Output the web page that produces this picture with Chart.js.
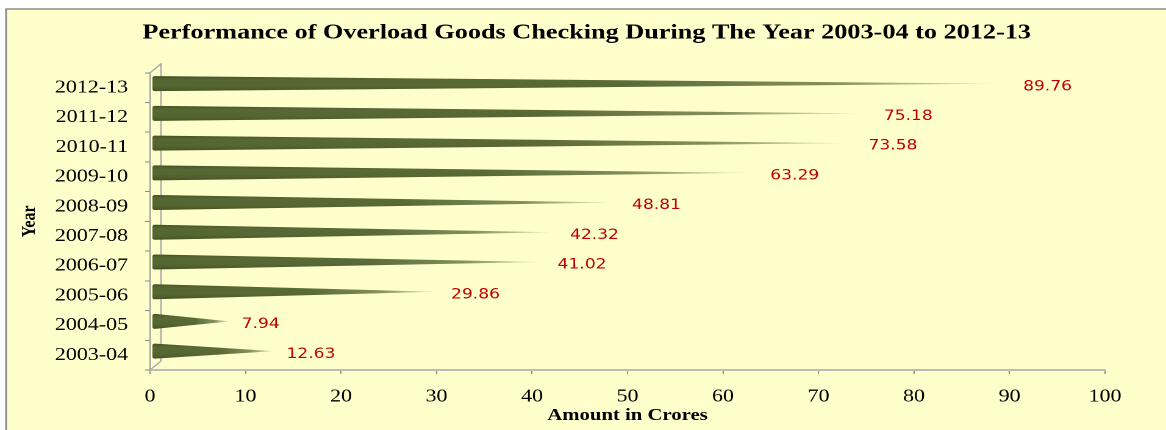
<!DOCTYPE html>
<html><head><meta charset="utf-8">
<script src="https://cdn.jsdelivr.net/npm/chart.js@4.4.1/dist/chart.umd.min.js"></script>
<style>
html,body{margin:0;padding:0;background:#fff;overflow:hidden;width:1166px;height:430px}
#wrap{width:956px;height:430px;transform:scaleX(1.219665);transform-origin:0 0}
canvas{display:block}
</style></head><body>
<div id="wrap"><canvas id="c" width="956" height="430" style="width:956px;height:430px"></canvas></div>
<script>
// ---- data ----
const years = ['2003-04','2004-05','2005-06','2006-07','2007-08','2008-09','2009-10','2010-11','2011-12','2012-13'];
const amounts = [12.63, 7.94, 29.86, 41.02, 42.32, 48.81, 63.29, 73.58, 75.18, 89.76];
const xTicks = [0, 10, 20, 30, 40, 50, 60, 70, 80, 90, 100];
const chartTitle = 'Performance of Overload Goods Checking During The Year 2003-04 to 2012-13';
const xTitle = 'Amount in Crores';
const yTitle = 'Year';

const SERIF = '"Liberation Serif", "Times New Roman", serif';

const bgPlugin = {
  id: 'bg',
  afterLayout(chart) {
    // centre the title over the framed area rather than the padded layout box
    if (chart.titleBlock) { chart.titleBlock.left = 0; chart.titleBlock.right = chart.width + 6; }
  },
  beforeDraw(chart) {
    const {ctx, width, height} = chart;
    ctx.save();
    ctx.fillStyle = '#ffffff';
    ctx.fillRect(0, 0, width, height);
    const bx = 5, by = 9;
    ctx.fillStyle = '#FFFFCC';
    ctx.fillRect(bx, by, width - bx, height - by);
    ctx.strokeStyle = '#8c8c8c';
    ctx.lineWidth = 1.5;
    ctx.beginPath();
    ctx.moveTo(bx, height);
    ctx.lineTo(bx, by);
    ctx.lineTo(width, by);
    ctx.stroke();
    ctx.restore();
  }
};

const wallPlugin = {
  id: 'wall',
  beforeDatasetsDraw(chart) {
    const {ctx, chartArea} = chart;
    const ax = chart.scales.y.right;
    const d = 9;
    ctx.save();
    ctx.strokeStyle = '#a8a8a8';
    ctx.lineWidth = 1.2;
    ctx.beginPath();
    ctx.moveTo(ax, chartArea.top);
    ctx.lineTo(ax + d, chartArea.top - d);
    ctx.lineTo(ax + d, chartArea.bottom - d);
    ctx.lineTo(ax, chartArea.bottom);
    ctx.stroke();
    ctx.restore();
  }
};

const conePlugin = {
  id: 'cones',
  afterDatasetsDraw(chart) {
    const {ctx} = chart;
    const meta = chart.getDatasetMeta(0);
    ctx.save();
    meta.data.forEach((el, i) => {
      const p = el.getProps(['x', 'y', 'base', 'height'], true);
      const h = p.height;
      const cy = p.y - 4;
      const x0 = p.base + 1.5;
      const tip = p.base + 4 + (p.x - p.base) * 0.985;
      const gh = ctx.createLinearGradient(x0, 0, tip, 0);
      gh.addColorStop(0, '#4a5c24');
      gh.addColorStop(0.55, '#4d6027');
      gh.addColorStop(0.8, 'rgba(79,98,40,0.75)');
      gh.addColorStop(1, 'rgba(79,98,40,0.15)');
      ctx.fillStyle = gh;
      ctx.beginPath();
      ctx.moveTo(x0 + 2, cy - h / 2);
      ctx.lineTo(tip, cy);
      ctx.lineTo(x0 + 2, cy + h / 2);
      ctx.quadraticCurveTo(x0, cy + h / 2, x0, cy + h / 2 - 2);
      ctx.lineTo(x0, cy - h / 2 + 2);
      ctx.quadraticCurveTo(x0, cy - h / 2, x0 + 2, cy - h / 2);
      ctx.closePath();
      ctx.fill();
      const gv = ctx.createLinearGradient(0, cy - h / 2, 0, cy + h / 2);
      gv.addColorStop(0, 'rgba(30,40,10,0.25)');
      gv.addColorStop(0.45, 'rgba(255,255,255,0.06)');
      gv.addColorStop(1, 'rgba(30,40,10,0.2)');
      ctx.fillStyle = gv;
      ctx.fill();
    });
    // value labels
    ctx.fillStyle = '#C00000';
    ctx.font = '14px "DejaVu Sans", Verdana, sans-serif';
    ctx.textAlign = 'left';
    ctx.textBaseline = 'middle';
    meta.data.forEach((el, i) => {
      const p = el.getProps(['x', 'y'], true);
      ctx.fillText(amounts[i].toFixed(2), p.x + 13, p.y - 1);
    });
    ctx.restore();
  }
};

new Chart(document.getElementById('c'), {
  type: 'bar',
  data: {
    labels: years,
    datasets: [{
      data: amounts,
      backgroundColor: 'rgba(0,0,0,0)',
      borderWidth: 0,
      barThickness: 15
    }]
  },
  options: {
    indexAxis: 'y',
    responsive: false,
    devicePixelRatio: 2,
    animation: false,
    layout: {padding: {left: 0, right: 50, top: 0, bottom: 0}},
    plugins: {
      legend: {display: false},
      tooltip: {enabled: false},
      title: {
        display: true,
        text: chartTitle,
        color: '#000',
        font: {family: SERIF, size: 21.5, weight: 'bold'},
        padding: {top: 20, bottom: 27}
      }
    },
    scales: {
      x: {
        min: 0, max: 100,
        afterBuildTicks: s => { s.ticks = xTicks.map(v => ({value: v})); },
        grid: {drawOnChartArea: false, drawTicks: true, tickLength: 4, color: '#8a8a8a'},
        border: {display: true, color: '#bcbcb4', width: 2},
        ticks: {color: '#000', font: {family: SERIF, size: 18}, padding: 12, maxRotation: 0, autoSkip: false},
        title: {display: true, text: xTitle, color: '#000', font: {family: SERIF, size: 17, weight: 'bold'}, padding: {top: 0, bottom: 4}},
        afterFit: s => { s.height = 60; }
      },
      y: {
        reverse: true,
        grid: {drawOnChartArea: false, drawTicks: true, tickLength: 4, color: '#8a8a8a', offset: true},
        border: {display: true, color: '#9a9a9a', width: 1},
        ticks: {color: '#000', font: {family: SERIF, size: 18}, padding: 14},
        title: {display: true, text: yTitle, color: '#000', font: {family: SERIF, size: 16, weight: 'bold'}, padding: {top: 15, bottom: 0}},
        afterFit: s => { s.width = 123; }
      }
    }
  },
  plugins: [bgPlugin, wallPlugin, conePlugin]
});
</script>
</body></html>
